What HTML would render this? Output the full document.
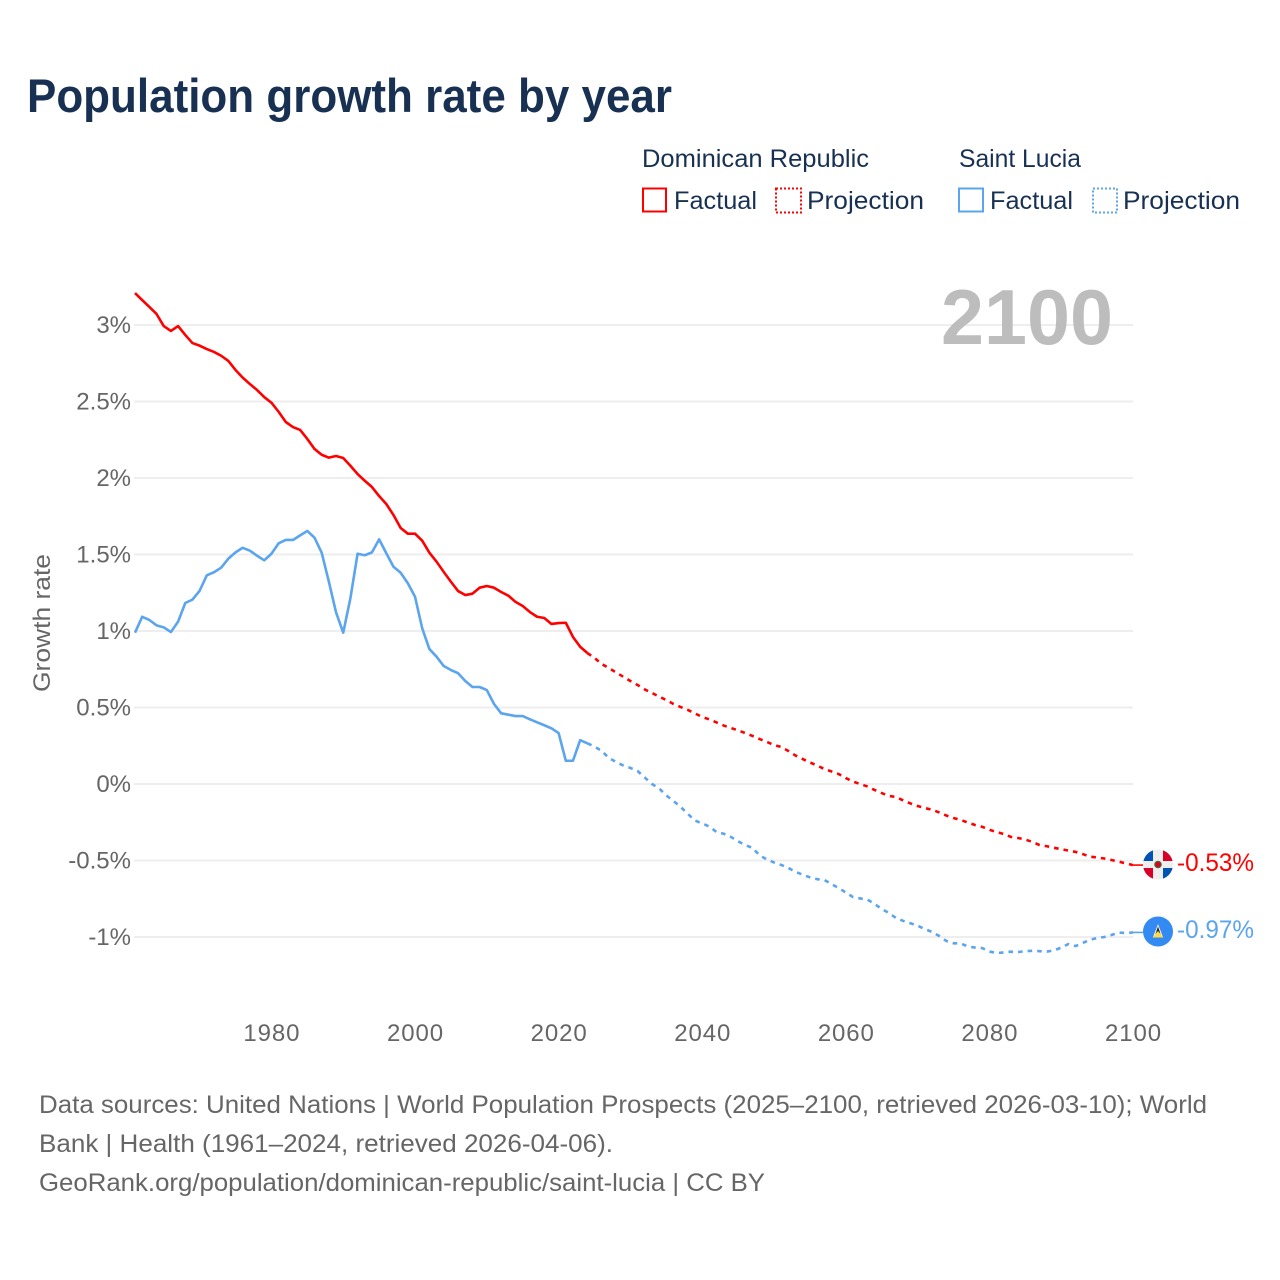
<!DOCTYPE html>
<html lang="en">
<head>
<meta charset="utf-8">
<title>Population growth rate by year</title>
<style>
html,body{margin:0;padding:0;background:#fff;}
svg{display:block;}
text{font-family:"Liberation Sans",sans-serif;}
</style>
</head>
<body>
<svg id="chart" xmlns="http://www.w3.org/2000/svg" width="1280" height="1280" viewBox="0 0 1280 1280">
  <rect x="0" y="0" width="1280" height="1280" fill="#ffffff"/>
  <text x="27" y="112" font-size="47" font-weight="bold" fill="#183153" textLength="645" lengthAdjust="spacingAndGlyphs">Population growth rate by year</text>

  <g fill="#183153" font-size="25">
    <text x="642" y="167" textLength="227" lengthAdjust="spacingAndGlyphs">Dominican Republic</text>
    <text x="959" y="167" textLength="122" lengthAdjust="spacingAndGlyphs">Saint Lucia</text>
    <rect x="643" y="188.5" width="23" height="23" fill="none" stroke="#ff0000" stroke-width="2"/>
    <text x="674" y="209" textLength="83" lengthAdjust="spacingAndGlyphs">Factual</text>
    <rect x="776" y="188.5" width="25" height="24" fill="none" stroke="#ff0000" stroke-width="2" stroke-dasharray="2 2"/>
    <text x="807" y="209" textLength="117" lengthAdjust="spacingAndGlyphs">Projection</text>
    <rect x="959" y="188.5" width="24" height="23" fill="none" stroke="#5ba4ee" stroke-width="2"/>
    <text x="990" y="209" textLength="83" lengthAdjust="spacingAndGlyphs">Factual</text>
    <rect x="1093" y="188.5" width="24" height="24" fill="none" stroke="#5ba4ee" stroke-width="2" stroke-dasharray="2 2"/>
    <text x="1123" y="209" textLength="117" lengthAdjust="spacingAndGlyphs">Projection</text>
  </g>

  <g id="grid"></g>
  <text x="941" y="344" font-size="78" font-weight="bold" fill="#bdbdbd" textLength="172" lengthAdjust="spacingAndGlyphs">2100</text>
  <g id="yaxis"></g>
  <g id="xaxis"></g>
  <text transform="translate(50,692) rotate(-90)" x="0" y="0" font-size="24" fill="#666666" textLength="138" lengthAdjust="spacingAndGlyphs">Growth rate</text>
  <g id="series"></g>

  <g>
    <clipPath id="drclip"><circle cx="1158" cy="864.5" r="15"/></clipPath>
    <g clip-path="url(#drclip)">
      <rect x="1143" y="849.5" width="30" height="30" fill="#eeeeee"/>
      <rect x="1143" y="849.5" width="10" height="11.5" fill="#0052b4"/>
      <rect x="1163" y="849.5" width="10" height="11.5" fill="#d80027"/>
      <rect x="1143" y="868" width="10" height="11.5" fill="#d80027"/>
      <rect x="1163" y="868" width="10" height="11.5" fill="#0052b4"/>
      <circle cx="1158" cy="864.5" r="3.2" fill="#d80027" stroke="#496e2d" stroke-width="1.2"/>
    </g>
  </g>
  <text id="label-dr" x="1177" y="871" font-size="25" fill="#ff0000" textLength="77" lengthAdjust="spacingAndGlyphs">-0.53%</text>

  <g>
    <circle cx="1158" cy="931.5" r="15" fill="#338af3"/>
    <polygon points="1158,924 1163,937 1153,937" fill="#f0f0f0"/>
    <polygon points="1158,926.5 1161.5,937 1154.5,937" fill="#222222"/>
    <polygon points="1158,931 1163.5,937.5 1152.5,937.5" fill="#ffda44"/>
  </g>
  <text id="label-lc" x="1177" y="938" font-size="25" fill="#5ba4ee" textLength="77" lengthAdjust="spacingAndGlyphs">-0.97%</text>

  <g font-size="25" fill="#666666">
    <text x="39" y="1113" textLength="1168" lengthAdjust="spacingAndGlyphs">Data sources: United Nations | World Population Prospects (2025–2100, retrieved 2026-03-10); World</text>
    <text x="39" y="1152" textLength="574" lengthAdjust="spacingAndGlyphs">Bank | Health (1961–2024, retrieved 2026-04-06).</text>
    <text x="39" y="1191" textLength="726" lengthAdjust="spacingAndGlyphs">GeoRank.org/population/dominican-republic/saint-lucia | CC BY</text>
  </g>
</svg>
<script>
const firstYear = 1961;
const projectionFirstYear = 2025;
const lastYear = 2100;
const yTicks = [3, 2.5, 2, 1.5, 1, 0.5, 0, -0.5, -1];
const yTickLabels = ['3%', '2.5%', '2%', '1.5%', '1%', '0.5%', '0%', '-0.5%', '-1%'];
const xTicks = [1980, 2000, 2020, 2040, 2060, 2080, 2100];

const drFactual = [3.209,3.163,3.118,3.072,2.993,2.961,2.993,2.935,2.882,2.865,2.843,2.824,2.799,2.765,2.706,2.656,2.614,2.575,2.529,2.492,
2.433,2.366,2.333,2.314,2.255,2.190,2.152,2.133,2.144,2.131,2.080,2.026,1.982,1.941,1.882,1.830,1.758,1.673,1.636,1.636,
1.590,1.512,1.453,1.386,1.322,1.261,1.235,1.244,1.283,1.294,1.283,1.255,1.231,1.190,1.163,1.124,1.093,1.085,1.046,1.052,
1.054,0.961,0.897,0.856];

const drProjection = [0.824,0.784,0.758,0.729,0.701,0.673,0.647,0.618,0.595,0.571,0.549,0.523,0.503,0.484,0.461,0.438,0.422,0.402,0.382,0.366,
0.350,0.333,0.314,0.294,0.275,0.255,0.242,0.216,0.186,0.163,0.141,0.121,0.098,0.082,0.065,0.039,0.016,0.000,-0.016,-0.039,
-0.059,-0.078,-0.085,-0.108,-0.127,-0.144,-0.157,-0.168,-0.186,-0.206,-0.222,-0.235,-0.252,-0.268,-0.280,-0.299,-0.314,-0.327,-0.346,-0.353,
-0.363,-0.379,-0.399,-0.407,-0.417,-0.426,-0.435,-0.444,-0.458,-0.475,-0.480,-0.487,-0.497,-0.507,-0.519,-0.530];

const lcFactual = [0.989,1.093,1.072,1.037,1.024,0.993,1.061,1.183,1.205,1.263,1.364,1.384,1.414,1.473,1.514,1.544,1.525,1.492,1.462,1.505,
1.573,1.595,1.595,1.625,1.654,1.610,1.512,1.322,1.122,0.989,1.214,1.505,1.495,1.514,1.599,1.508,1.420,1.381,1.312,1.224,
1.018,0.882,0.832,0.771,0.745,0.724,0.673,0.634,0.634,0.614,0.523,0.462,0.453,0.444,0.444,0.423,0.403,0.384,0.364,0.333,
0.152,0.152,0.286,0.266];

const lcProjection = [0.245,0.216,0.170,0.144,0.121,0.105,0.085,0.042,0.000,-0.029,-0.075,-0.111,-0.150,-0.196,-0.239,-0.258,-0.278,-0.314,-0.325,-0.346,
-0.375,-0.399,-0.418,-0.466,-0.493,-0.513,-0.529,-0.549,-0.574,-0.593,-0.610,-0.622,-0.627,-0.654,-0.680,-0.709,-0.739,-0.748,-0.755,-0.784,
-0.817,-0.843,-0.876,-0.895,-0.910,-0.926,-0.948,-0.967,-0.993,-1.026,-1.041,-1.042,-1.062,-1.069,-1.072,-1.095,-1.105,-1.101,-1.096,-1.098,
-1.093,-1.090,-1.093,-1.095,-1.088,-1.069,-1.046,-1.059,-1.039,-1.018,-1.007,-1.000,-0.987,-0.971,-0.974,-0.970];

const NS = 'http://www.w3.org/2000/svg';
function xScale(year) { return 135 + (year - 1961) * 7.18; }
function yScale(v) { return 784 - v * 153; }

const gridG = document.getElementById('grid');
const yG = document.getElementById('yaxis');
const xG = document.getElementById('xaxis');
const seriesG = document.getElementById('series');

yTicks.forEach(function (t, i) {
  const line = document.createElementNS(NS, 'line');
  
  
  line.setAttribute('x1', 134);
  line.setAttribute('x2', 1133);
  line.setAttribute('y1', yScale(t));
  line.setAttribute('y2', yScale(t));
  line.setAttribute('stroke', '#eeeeee');
  line.setAttribute('stroke-width', '2');
  gridG.appendChild(line);

  const label = document.createElementNS(NS, 'text');
  
  
  label.setAttribute('x', 131);
  label.setAttribute('y', yScale(t) + 8);
  label.setAttribute('text-anchor', 'end');
  label.setAttribute('font-size', '24');
  label.setAttribute('fill', '#666666');
  label.textContent = yTickLabels[i];
  yG.appendChild(label);
});

xTicks.forEach(function (t) {
  const label = document.createElementNS(NS, 'text');
  
  
  label.setAttribute('x', xScale(t) + 0.5);
  label.setAttribute('y', 1041);
  label.setAttribute('text-anchor', 'middle');
  label.setAttribute('font-size', '24');
  label.setAttribute('letter-spacing', '0.9');
  label.setAttribute('fill', '#666666');
  label.textContent = String(t);
  xG.appendChild(label);
});

function pathFor(values, startYear) {
  return values.map(function (v, i) {
    return (i ? 'L' : 'M') + xScale(startYear + i).toFixed(2) + ' ' + yScale(v).toFixed(2);
  }).join(' ');
}

function addSeries(values, startYear, color, dashed, name) {
  const p = document.createElementNS(NS, 'path');
  
  
  p.setAttribute('d', pathFor(values, startYear));
  p.setAttribute('fill', 'none');
  p.setAttribute('stroke', color);
  p.setAttribute('stroke-width', '2.6');
  p.setAttribute('stroke-linejoin', 'round');
  if (dashed) p.setAttribute('stroke-dasharray', '4.6 5');
  seriesG.appendChild(p);
}

function addConnector(value, color, name) {
  const l = document.createElementNS(NS, 'line');
  
  
  l.setAttribute('x1', xScale(lastYear));
  l.setAttribute('x2', 1143);
  l.setAttribute('y1', yScale(value));
  l.setAttribute('y2', yScale(value));
  l.setAttribute('stroke', color);
  l.setAttribute('stroke-width', '1.6');
  seriesG.appendChild(l);
}

addSeries(lcFactual, firstYear, '#5ba4ee', false, 'line-saint-lucia-factual');
addSeries(lcFactual.slice(-1).concat(lcProjection), projectionFirstYear - 1, '#5ba4ee', true, 'line-saint-lucia-projection');
addSeries(drFactual, firstYear, '#ff0000', false, 'line-dominican-republic-factual');
addSeries(drFactual.slice(-1).concat(drProjection), projectionFirstYear - 1, '#ff0000', true, 'line-dominican-republic-projection');
addConnector(lcProjection[lcProjection.length - 1], '#5ba4ee', 'connector-saint-lucia');
addConnector(drProjection[drProjection.length - 1], '#ff0000', 'connector-dominican-republic');
</script>
</body>
</html>
